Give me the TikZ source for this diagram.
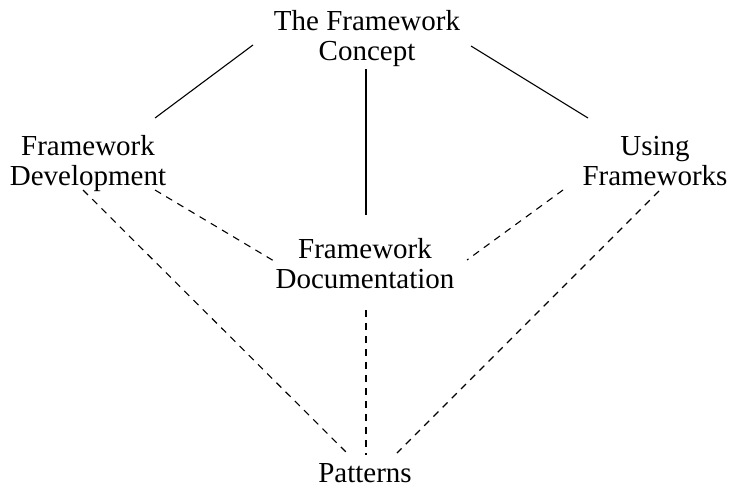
\documentclass[tikz,border=0pt]{standalone}
\usepackage{fontspec}
\setmainfont{Liberation Serif}
\usepackage{tikz}

\begin{document}
\begin{tikzpicture}[x=1pt,y=-1pt,line width=1.1pt,
  topic/.style={inner sep=0pt,anchor=base,align=center,font=\fontsize{29}{30}\selectfont},
  weak/.style={dash pattern=on 7pt off 6pt}]
  \useasboundingbox (0,0) rectangle (731,490);
  \node[topic] (concept) at (367,60)  {The Framework\\Concept};
  \node[topic] (dev)     at (88,185)  {Framework\\Development};
  \node[topic] (use)     at (655,185) {Using\\Frameworks};
  \node[topic] (doc)     at (365,288) {Framework\\Documentation};
  \node[topic] (pat)     at (365,482) {Patterns};
  % solid links from the concept
  \draw ([shift={(-114,-15)}]concept.base) -- ([shift={(67,-67)}]dev.base);
  \draw ([shift={(-1,9)}]concept.base)     -- ([shift={(1,-73)}]doc.base);
  \draw ([shift={(104,-14)}]concept.base)  -- ([shift={(-67,-67)}]use.base);
  % dashed links
  \draw[weak] ([shift={(-5,5)}]dev.base)  -- ([shift={(-18,-29)}]pat.base);
  \draw[weak] ([shift={(67,5)}]dev.base)  -- ([shift={(-91,-27)}]doc.base);
  \draw[weak] ([shift={(-92,5)}]use.base) -- ([shift={(102,-28)}]doc.base);
  \draw[weak] ([shift={(4,6)}]use.base)   -- ([shift={(32,-29)}]pat.base);
  \draw[weak] ([shift={(1,22)}]doc.base)  -- ([shift={(1,-27)}]pat.base);
\end{tikzpicture}
\end{document}
